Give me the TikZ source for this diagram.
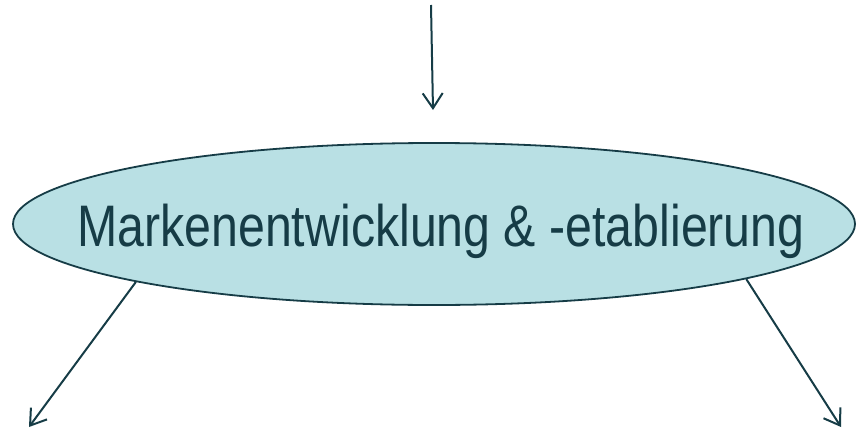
\documentclass[tikz,border=0pt]{standalone}
\usepackage{fontspec}
\setmainfont{Liberation Sans}
\usetikzlibrary{shapes.geometric,arrows.meta}
\definecolor{inkc}{RGB}{22,60,70}
\definecolor{fillc}{RGB}{185,224,228}
\tikzset{
  bubble/.style={ellipse, draw=inkc, fill=fillc, line width=1.8pt, inner sep=0pt,
    minimum width=842pt, minimum height=162pt},
  label/.style={text=inkc, inner sep=0pt, anchor=base,
    font=\fontsize{58.6}{62}\selectfont},
  conn/.style={draw=inkc, line width=2pt, -{Straight Barb[length=15pt,width=20pt,line width=2pt]}}
}
\begin{document}
\begin{tikzpicture}[x=1pt,y=-1pt]
\useasboundingbox (0,0) rectangle (856,428);
\node[bubble] (el) at (434,224) {};
\node[label] (txt) at (441,246) {\scalebox{0.824}[1]{Markenentwicklung \& -etablierung}};
\coordinate (topstart) at (431,5);
\coordinate (topend) at (433,110);
\coordinate (lefttip) at (29,427);
\coordinate (righttip) at (841,427);
\draw[conn] (topstart) -- (topend);
\draw[conn] (el.191.3) -- (lefttip);
\draw[conn] (el.350.3) -- (righttip);
\end{tikzpicture}
\end{document}
